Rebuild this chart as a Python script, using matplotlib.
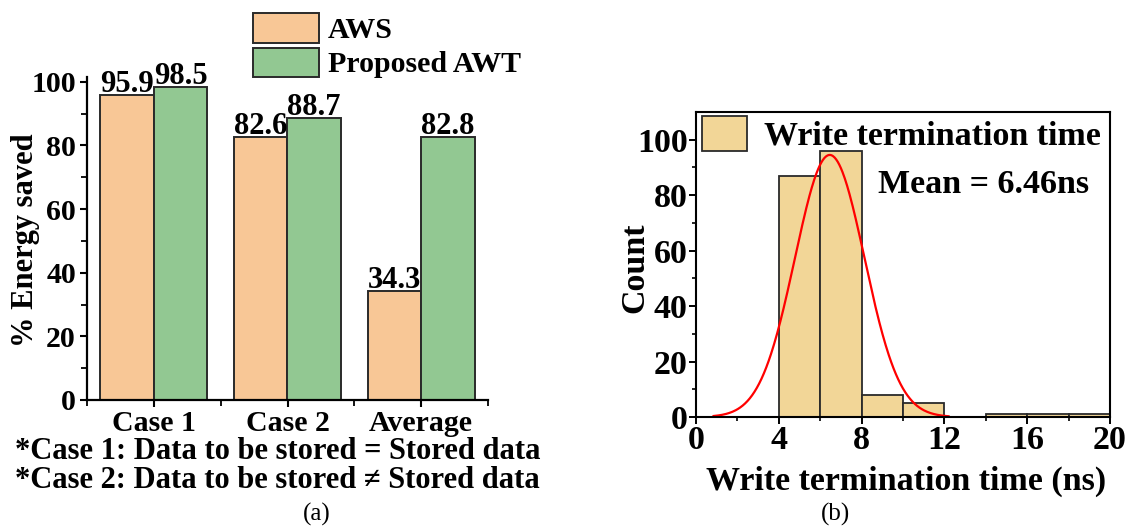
import numpy as np
import matplotlib
matplotlib.use("Agg")
import matplotlib.pyplot as plt
from matplotlib.patches import Patch
from matplotlib.ticker import FixedLocator

# ---- panel (a): energy saved per case ----
categories = ["Case 1", "Case 2", "Average"]
aws_saved = [95.9, 82.6, 34.3]
awt_saved = [98.5, 88.7, 82.8]
series_names = ["AWS", "Proposed AWT"]
notes = ["*Case 1: Data to be stored = Stored data",
         "*Case 2: Data to be stored \u2260 Stored data"]

# ---- panel (b): write termination time histogram ----
bin_edges = [4, 6, 8, 10, 12, 14, 16, 18, 20]
bin_counts = [87, 96, 8, 5, 0, 1, 1, 1]
mean_ns = 6.46
sigma_ns = 1.68
hist_label = "Write termination time"

plt.rcParams["font.family"] = ["Liberation Serif", "DejaVu Serif"]
plt.rcParams["font.weight"] = "bold"
plt.rcParams["axes.labelweight"] = "bold"

W, H = 1133, 529
fig = plt.figure(figsize=(W / 100, H / 100), dpi=100)


def px_rect(left, top, right, bottom):
    return [left / W, 1 - bottom / H, (right - left) / W, (bottom - top) / H]


AWS_COLOR = "#F8C796"
AWT_COLOR = "#92C892"
HIST_COLOR = "#F2D697"
EDGE = "#2a2a2a"

# ================= panel (a) =================
fs_a = 21.5
ax1 = fig.add_axes(px_rect(87, 77, 488, 400))
x = np.arange(len(categories))
bw = 0.4
b1 = ax1.bar(x - bw / 2, aws_saved, bw, color=AWS_COLOR, edgecolor=EDGE, linewidth=1.4)
b2 = ax1.bar(x + bw / 2, awt_saved, bw, color=AWT_COLOR, edgecolor=EDGE, linewidth=1.4)
for bars, vals in ((b1, aws_saved), (b2, awt_saved)):
    for rect, v in zip(bars, vals):
        ax1.annotate(f"{v}", (rect.get_x() + rect.get_width() / 2, v),
                     xytext=(0, 2), textcoords="offset points",
                     ha="center", va="baseline", fontsize=fs_a + 0.5, fontweight="bold")

ax1.set_xlim(-0.5, 2.5)
ax1.set_ylim(0, 101.5)
ax1.set_xticks(x)
ax1.set_xticklabels(categories)
ax1.xaxis.set_minor_locator(FixedLocator([-0.5, 0.5, 1.5, 2.5]))
ax1.set_yticks([0, 20, 40, 60, 80, 100])
ax1.yaxis.set_minor_locator(FixedLocator([10, 30, 50, 70, 90]))
for side in ("top", "right"):
    ax1.spines[side].set_visible(False)
for side in ("left", "bottom"):
    ax1.spines[side].set_linewidth(1.6)
ax1.tick_params(axis="both", which="major", direction="out", length=5, width=1.5,
                labelsize=fs_a)
ax1.tick_params(axis="both", which="minor", direction="out", length=4, width=1.3)
ax1.tick_params(axis="y", which="major", pad=3)
ax1.tick_params(axis="x", which="major", pad=2)

fig.text(26 / W, 1 - 240 / H, "% Energy saved", rotation=90, ha="center", va="center",
         fontsize=fs_a + 0.5, fontweight="bold")

fig.legend([Patch(facecolor=AWS_COLOR, edgecolor=EDGE, linewidth=1.4),
            Patch(facecolor=AWT_COLOR, edgecolor=EDGE, linewidth=1.4)],
           series_names, loc="upper left", bbox_to_anchor=(253 / W, 1 - 13 / H),
           frameon=False, borderpad=0, borderaxespad=0, handlelength=2.22,
           handleheight=1.15, labelspacing=0.12, handletextpad=0.3,
           prop={"size": fs_a, "weight": "bold"})

for note, base in zip(notes, (459, 488)):
    fig.text(15 / W, 1 - base / H, note, ha="left", va="baseline",
             fontsize=22, fontweight="bold")

fig.text(317 / W, 1 - 514 / H, "(a)", ha="center", va="center", fontsize=18,
         fontweight="normal")

# ================= panel (b) =================
fs_b = 24.5
ax2 = fig.add_axes(px_rect(696, 112, 1110, 417))
edges = np.array(bin_edges, dtype=float)
counts = np.array(bin_counts, dtype=float)
ax2.bar(edges[:-1], counts, width=np.diff(edges), align="edge",
        color=HIST_COLOR, edgecolor=EDGE, linewidth=1.3)

# normal fit scaled to the histogram
n_total = counts.sum()
bin_w = edges[1] - edges[0]
xc = np.linspace(0.85, 12.2, 300)
yc = n_total * bin_w / (sigma_ns * np.sqrt(2 * np.pi)) * np.exp(-0.5 * ((xc - mean_ns) / sigma_ns) ** 2)
ax2.plot(xc, yc, color="#ff0000", linewidth=1.6)

ax2.set_xlim(0, 20)
ax2.set_ylim(0, 110)
ax2.set_xticks([0, 4, 8, 12, 16, 20])
ax2.xaxis.set_minor_locator(FixedLocator([2, 6, 10, 14, 18]))
ax2.set_yticks([0, 20, 40, 60, 80, 100])
ax2.yaxis.set_minor_locator(FixedLocator([10, 30, 50, 70, 90]))
for side in ("top", "right", "left", "bottom"):
    ax2.spines[side].set_linewidth(1.5)
ax2.tick_params(axis="both", which="major", direction="out", length=5, width=1.4,
                labelsize=fs_b, pad=1)
ax2.tick_params(axis="both", which="minor", direction="out", length=3, width=1.2)

ax2.text(8.8, 84, f"Mean = {mean_ns}ns", ha="left", va="center",
         fontsize=fs_b, fontweight="bold")

fig.text(635 / W, 1 - 268 / H, "Count", rotation=90, ha="center", va="center",
         fontsize=fs_b, fontweight="bold")
fig.text(906 / W, 1 - 481 / H, "Write termination time (ns)", ha="center", va="center",
         fontsize=fs_b, fontweight="bold")

fig.legend([Patch(facecolor=HIST_COLOR, edgecolor=EDGE, linewidth=1.3)], [hist_label],
           loc="upper left", bbox_to_anchor=(702 / W, 1 - 116 / H), frameon=False,
           borderpad=0, borderaxespad=0, handlelength=1.31, handleheight=1.2,
           handletextpad=0.5, prop={"size": fs_b, "weight": "bold"})

fig.text(835 / W, 1 - 514 / H, "(b)", ha="center", va="center", fontsize=18,
         fontweight="normal")

fig.savefig("out.png", dpi=100)
